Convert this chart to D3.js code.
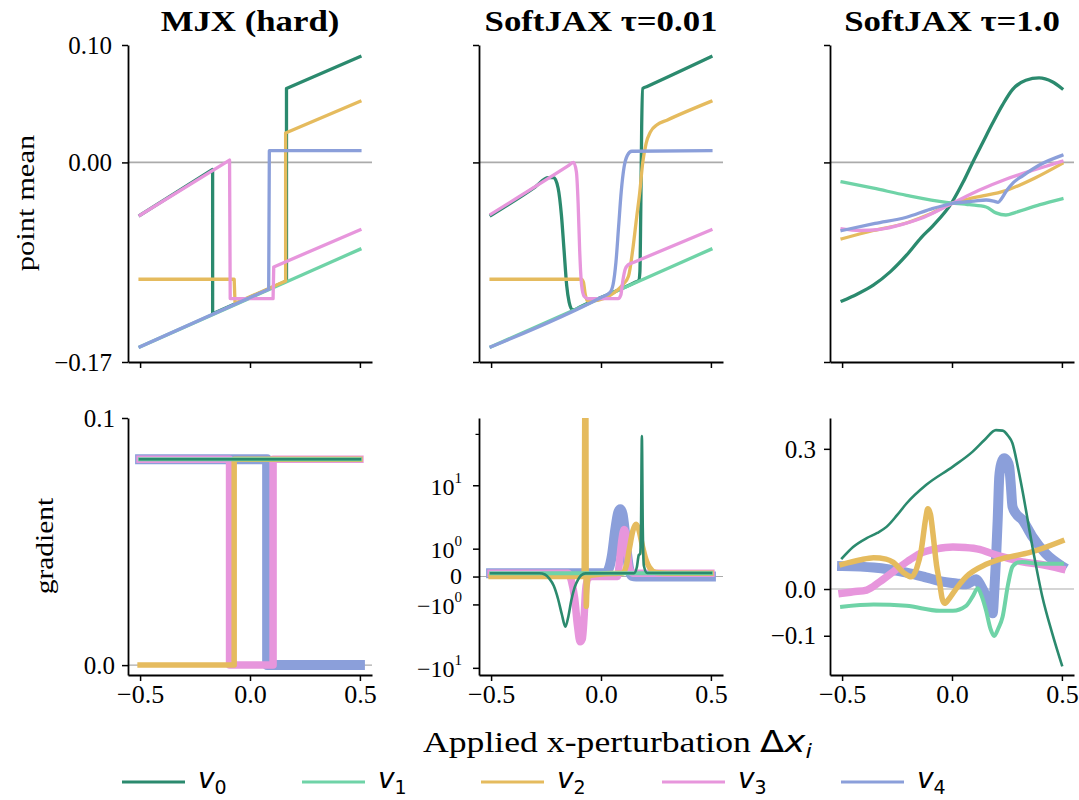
<!DOCTYPE html>
<html>
<head>
<meta charset="utf-8">
<script src="https://cdn.jsdelivr.net/npm/d3@7"></script>
<style>
  body { margin: 0; background: #fff; }
  svg { display: block; }
  text { fill: #000; }
</style>
</head>
<body>
<div id="chart"></div>
<script>
const seriesIds = ['0', '1', '2', '3', '4'];
const seriesColors = ['#2b8a6e', '#6fd3a7', '#e5bb5e', '#e796dc', '#8b9fda'];
const panelTitles = ['MJX (hard)', 'SoftJAX \u03c4=0.01', 'SoftJAX \u03c4=1.0'];
const rowLabels = ['point mean', 'gradient'];
const xLabelText = 'Applied x-perturbation ';

const xTicks = [-0.5, 0, 0.5];
const xTickLabels = ['\u22120.5', '0.0', '0.5'];
const meanTicks = [-0.17, 0, 0.10];
const meanTickLabels = ['\u22120.17', '0.00', '0.10'];
const gradHardTicks = [0, 0.1];
const gradHardTickLabels = ['0.0', '0.1'];
const gradSoftTicks = [-10, -1, 0, 1, 10];
const gradSoftTickLabels = [['\u221210', '1'], ['\u221210', '0'], ['0', ''], ['10', '0'], ['10', '1']];
const gradSoftMinorTicks = [44];
const gradSmoothTicks = [-0.1, 0, 0.3];
const gradSmoothTickLabels = ['\u22120.1', '0.0', '0.3'];

// point mean, MJX hard
const meanHard = [
  [[-0.5, -0.045], [-0.17, -0.006], [-0.17, -0.129], [0.166, -0.101], [0.166, 0.063], [0.5, 0.090]],
  [[-0.5, -0.157], [0.5, -0.074]],
  [[-0.5, -0.0995], [-0.072, -0.0995], [-0.068, -0.120], [0.162, -0.101], [0.162, 0.025], [0.5, 0.052]],
  [[-0.5, -0.045], [-0.093, 0.002], [-0.09, -0.116], [0.105, -0.116], [0.108, -0.089], [0.5, -0.0575]],
  [[-0.5, -0.157], [0.085, -0.108], [0.088, 0.010], [0.5, 0.010]]
];

// point mean, SoftJAX tau=0.01
const meanSoft = [
  [[-0.5, -0.045], [-0.3, -0.021], [-0.24, -0.013], [-0.215, -0.013], [-0.195, -0.022], [-0.18, -0.045],
   [-0.168, -0.075], [-0.156, -0.105], [-0.145, -0.119], [-0.13, -0.1255], [-0.12, -0.1255], [-0.1, -0.1235],
   [0.16, -0.1017], [0.172, -0.1005], [0.177, -0.093], [0.181, -0.04], [0.185, 0.03], [0.19, 0.063],
   [0.21, 0.0647], [0.5, 0.090]],
  [[-0.5, -0.157], [0.5, -0.074]],
  [[-0.5, -0.0995], [-0.09, -0.0995], [-0.08, -0.102], [-0.072, -0.112], [-0.062, -0.118], [-0.04, -0.118],
   [0.06, -0.111], [0.1, -0.104], [0.125, -0.097], [0.146, -0.072], [0.162, -0.047], [0.176, -0.026],
   [0.19, 0.0], [0.205, 0.016], [0.225, 0.026], [0.255, 0.032], [0.3, 0.036], [0.5, 0.052]],
  [[-0.5, -0.044], [-0.15, -0.003], [-0.125, 0.0], [-0.112, -0.008], [-0.104, -0.035], [-0.097, -0.075],
   [-0.088, -0.105], [-0.077, -0.114], [-0.06, -0.116], [0.078, -0.116], [0.09, -0.113], [0.1, -0.100],
   [0.11, -0.091], [0.125, -0.087], [0.15, -0.085], [0.5, -0.0575]],
  [[-0.5, -0.157], [0.0, -0.115], [0.04, -0.111], [0.055, -0.104], [0.068, -0.085], [0.08, -0.055],
   [0.092, -0.025], [0.105, -0.004], [0.12, 0.006], [0.14, 0.0095], [0.5, 0.010]]
];

// point mean, SoftJAX tau=1.0
const meanSmooth = [
  [[-0.5, -0.118], [-0.43, -0.112], [-0.358, -0.1045], [-0.28, -0.093], [-0.207, -0.079], [-0.14, -0.064],
   [-0.087, -0.054], [0.0, -0.034], [0.05, -0.017], [0.094, 0.0], [0.14, 0.017], [0.185, 0.0335],
   [0.23, 0.049], [0.275, 0.062], [0.336, 0.070], [0.396, 0.072], [0.456, 0.0687], [0.5, 0.063]],
  [[-0.5, -0.0166], [-0.357, -0.022], [-0.207, -0.028], [-0.026, -0.034], [0.08, -0.036], [0.155, -0.038],
   [0.2, -0.043], [0.245, -0.0448], [0.29, -0.0425], [0.4, -0.036], [0.5, -0.031]],
  [[-0.5, -0.065], [-0.357, -0.058], [-0.207, -0.0516], [-0.1, -0.044], [0.0, -0.035], [0.1, -0.03],
   [0.245, -0.024], [0.38, -0.013], [0.5, -0.001]],
  [[-0.5, -0.0566], [-0.42, -0.058], [-0.327, -0.057], [-0.23, -0.053], [-0.146, -0.048], [0.0, -0.035],
   [0.12, -0.024], [0.245, -0.0144], [0.38, -0.006], [0.5, 0.001]],
  [[-0.5, -0.058], [-0.35, -0.052], [-0.207, -0.0467], [-0.1, -0.04], [0.0, -0.035], [0.1, -0.033],
   [0.155, -0.032], [0.19, -0.033], [0.21, -0.034], [0.225, -0.031], [0.245, -0.025], [0.28, -0.017],
   [0.32, -0.0116], [0.4, -0.002], [0.5, 0.006]]
];

// gradient, MJX hard
const gradHard = [
  [[-0.5, 0.0833], [0.5, 0.0833]],
  [[-0.5, 0.0833], [0.5, 0.0833]],
  [[-0.5, 0], [-0.072, 0], [-0.072, 0.0833], [0.5, 0.0833]],
  [[-0.5, 0.0833], [-0.093, 0.0833], [-0.093, 0], [0.105, 0], [0.105, 0.0833], [0.5, 0.0833]],
  [[-0.5, 0.0833], [0.078, 0.0833], [0.078, 0], [0.5, 0]]
];

// gradient, SoftJAX tau=0.01 (symlog axis)
const gradSoft = [
  [[-0.5, 0.083], [-0.28, 0.083], [-0.255, 0.05], [-0.235, -0.05], [-0.215, -0.25], [-0.195, -0.75],
   [-0.178, -1.6], [-0.162, -2.6], [-0.148, -1.7], [-0.135, -0.8], [-0.12, -0.3], [-0.105, -0.08],
   [-0.09, 0.03], [-0.07, 0.08], [0.15, 0.083], [0.163, 0.25], [0.172, 0.7], [0.178, 0.75], [0.182, 2.5],
   [0.186, 42], [0.19, 2.5], [0.195, 0.3], [0.21, 0.09], [0.5, 0.09]],
  [[-0.5, 0.083], [0.5, 0.083]],
  [[-0.5, 0], [-0.1, 0], [-0.077, 0], [-0.073, 150], [-0.069, 150], [-0.067, -1.1], [-0.064, -0.3],
   [-0.058, 0], [-0.045, 0.03], [0.08, 0.083], [0.1, 0.09], [0.115, 0.3], [0.13, 1.06], [0.145, 2.2],
   [0.16, 2.8], [0.172, 2.3], [0.19, 1.06], [0.205, 0.5], [0.22, 0.25], [0.25, 0.1], [0.3, 0.083], [0.5, 0.083]],
  [[-0.5, 0.083], [-0.15, 0.083], [-0.135, -0.1], [-0.12, -0.7], [-0.107, -2.5], [-0.095, -4.4],
   [-0.085, -4.0], [-0.077, -1.8], [-0.07, -0.4], [-0.06, -0.05], [-0.04, 0], [0.075, 0], [0.085, 0.5],
   [0.095, 1.5], [0.105, 2.3], [0.113, 2.0], [0.12, 0.8], [0.13, 0.2], [0.145, 0.083], [0.5, 0.083]],
  [[-0.5, 0.083], [0.02, 0.083], [0.035, 0.2], [0.05, 0.7], [0.065, 2.3], [0.078, 4.2], [0.088, 4.7],
   [0.098, 4.0], [0.108, 2.2], [0.118, 0.8], [0.128, 0.2], [0.14, 0.02], [0.16, 0], [0.5, 0]]
];

// gradient, SoftJAX tau=1.0
const gradSmooth = [
  [[-0.5, 0.066], [-0.45, 0.09], [-0.388, 0.109], [-0.34, 0.12], [-0.298, 0.133], [-0.25, 0.158],
   [-0.207, 0.183], [-0.117, 0.223], [0.004, 0.262], [0.094, 0.294], [0.15, 0.32], [0.2, 0.34],
   [0.23, 0.339], [0.255, 0.328], [0.275, 0.312], [0.3, 0.26], [0.32, 0.212], [0.366, 0.09],
   [0.411, -0.0165], [0.456, -0.095], [0.5, -0.163]],
  [[-0.5, -0.038], [-0.357, -0.0333], [-0.207, -0.036], [-0.056, -0.0464], [0.004, -0.0464], [0.064, -0.036],
   [0.095, -0.015], [0.117, 0.0015], [0.135, -0.015], [0.155, -0.046], [0.175, -0.085], [0.192, -0.1006],
   [0.21, -0.085], [0.23, -0.06], [0.255, 0.01], [0.275, 0.0478], [0.3, 0.057], [0.32, 0.058],
   [0.396, 0.054], [0.5, 0.054]],
  [[-0.5, 0.0528], [-0.42, 0.062], [-0.357, 0.067], [-0.3, 0.064], [-0.267, 0.057], [-0.22, 0.035],
   [-0.185, 0.026], [-0.16, 0.045], [-0.14, 0.083], [-0.12, 0.15], [-0.11, 0.172], [-0.098, 0.16],
   [-0.087, 0.12], [-0.07, 0.05], [-0.056, 0.0128], [-0.045, -0.02], [-0.034, -0.0306], [-0.015, -0.022],
   [0.004, -0.0092], [0.064, 0.026], [0.155, 0.0528], [0.245, 0.067], [0.351, 0.0778], [0.5, 0.1028]],
  [[-0.5, -0.0092], [-0.45, -0.006], [-0.388, -0.0021], [-0.33, 0.015], [-0.267, 0.037], [-0.2, 0.06],
   [-0.146, 0.076], [-0.07, 0.086], [0.004, 0.09], [0.06, 0.089], [0.125, 0.0849], [0.18, 0.076],
   [0.245, 0.067], [0.32, 0.058], [0.4, 0.053], [0.5, 0.0428]],
  [[-0.5, 0.049], [-0.357, 0.046], [-0.207, 0.035], [-0.12, 0.025], [-0.056, 0.017], [0.02, 0.012],
   [0.064, 0.01], [0.09, 0.016], [0.11, 0.021], [0.13, 0.008], [0.155, -0.0164], [0.175, -0.045],
   [0.185, -0.0521], [0.193, 0.0], [0.2, 0.0621], [0.208, 0.15], [0.215, 0.24], [0.225, 0.27],
   [0.237, 0.28], [0.25, 0.275], [0.26, 0.262], [0.268, 0.22], [0.275, 0.177], [0.29, 0.162],
   [0.32, 0.148], [0.366, 0.112], [0.426, 0.076], [0.5, 0.049]]
];

const SERIF = '"Liberation Serif", "Times New Roman", serif';
const SANS = '"DejaVu Sans", sans-serif';

class ProbeGrid {
  constructor(domId) {
    this._width = 1079;
    this._height = 800;
    this._cols = [128, 479, 830];
    this._axW = 244;
    this._rows = [[45, 362], [418, 675]];
    this._svg = d3.select(domId).append('svg')
      .attr('width', this._width)
      .attr('height', this._height);
    this._defs = this._svg.append('defs');
    this._panels = [
      { col: 0, row: 0, data: meanHard, y: d3.scaleLinear().domain([-0.17, 0.10]), ticks: meanTicks, labels: meanTickLabels, pad: 10, curve: d3.curveLinear },
      { col: 1, row: 0, data: meanSoft, y: d3.scaleLinear().domain([-0.17, 0.10]), ticks: meanTicks, labels: null, pad: 10, curve: d3.curveMonotoneX },
      { col: 2, row: 0, data: meanSmooth, y: d3.scaleLinear().domain([-0.17, 0.10]), ticks: meanTicks, labels: null, pad: 10, curve: d3.curveMonotoneX },
      { col: 0, row: 1, data: gradHard, y: d3.scaleLinear().domain([-0.004, 0.1]), ticks: gradHardTicks, labels: gradHardTickLabels, pad: 7, curve: d3.curveLinear },
      { col: 1, row: 1, data: gradSoft, y: d3.scaleSymlog().constant(0.85).domain([-12.4, 70]), ticks: gradSoftTicks, labels: 'symlog', pad: 11, curve: d3.curveMonotoneX },
      { col: 2, row: 1, data: gradSmooth, y: d3.scaleLinear().domain([-0.184, 0.366]), ticks: gradSmoothTicks, labels: gradSmoothTickLabels, pad: 8, curve: d3.curveMonotoneX }
    ];
  }

  render() {
    this._panels.forEach((p, i) => this.renderPanel(p, i));
    this.renderTitles();
    this.renderLabels();
    this.renderLegend();
  }

  renderPanel(p, i) {
    const x0 = this._cols[p.col];
    const [yTop, yBot] = this._rows[p.row];
    const x = d3.scaleLinear().domain([-0.555, 0.555]).range([x0, x0 + this._axW]);
    const y = p.y.range([yBot, yTop]);
    const g = this._svg.append('g').attr('class', 'panel-' + i);

    this._defs.append('clipPath').attr('id', 'clip' + i)
      .append('rect')
      .attr('x', x0).attr('y', yTop)
      .attr('width', this._axW).attr('height', yBot - yTop);

    // reference line at zero
    g.append('line')
      .attr('x1', x0).attr('x2', x0 + this._axW)
      .attr('y1', y(0)).attr('y2', y(0))
      .attr('stroke', '#ababab')
      .attr('stroke-width', p.row === 0 ? 1.6 : 1.1);

    const widths = p.row === 0 ? [3.3, 3.3, 3.3, 3.3, 3.3] : [2.6, 4, 5.5, 7.5, 10];
    const order = p.row === 0 ? [0, 1, 2, 3, 4] : [4, 3, 2, 1, 0];
    const line = d3.line()
      .x(d => x(d[0]))
      .y(d => y(d[1]))
      .curve(p.curve);

    g.append('g')
      .attr('clip-path', `url(#clip${i})`)
      .selectAll('path')
      .data(order)
      .join('path')
      .attr('d', k => line(p.data[k]))
      .attr('fill', 'none')
      .attr('stroke', k => seriesColors[k])
      .attr('stroke-width', k => widths[k])
      .attr('stroke-linecap', 'square')
      .attr('stroke-linejoin', 'round');

    // x axis
    const xAxis = g.append('g')
      .attr('transform', `translate(0,${yBot})`)
      .call(d3.axisBottom(x).tickValues(xTicks).tickSize(6).tickSizeOuter(0)
        .tickFormat((d, j) => p.row === 1 ? xTickLabels[j] : ''));
    xAxis.selectAll('.tick text')
      .attr('y', 28).attr('dy', null)
      .attr('font-family', SERIF).attr('font-size', 26);

    // y axis
    const yAxis = g.append('g')
      .attr('transform', `translate(${x0},0)`)
      .call(d3.axisLeft(y).tickValues(p.ticks).tickSize(6).tickSizeOuter(0).tickPadding(p.pad)
        .tickFormat((d, j) => Array.isArray(p.labels) ? p.labels[j] : ''));
    yAxis.selectAll('.tick text')
      .attr('font-family', SERIF).attr('font-size', 25).attr('dy', '0.33em');

    if (p.labels === 'symlog') {
      yAxis.selectAll('.tick text').each(function (d, j) {
        const [base, sup] = gradSoftTickLabels[j];
        const t = d3.select(this).text(null).attr('dy', null).attr('y', sup ? 9 : 7)
          .attr('font-size', 24);
        t.append('tspan').text(base);
        if (sup) t.append('tspan').attr('font-size', 15).attr('dy', -12).text(sup);
      });
      yAxis.selectAll('.minor')
        .data(gradSoftMinorTicks)
        .join('line')
        .attr('class', 'minor')
        .attr('x1', -3.5).attr('x2', 0)
        .attr('y1', d => y(d)).attr('y2', d => y(d))
        .attr('stroke', '#000').attr('stroke-width', 1.2);
    }

    [xAxis, yAxis].forEach(a => {
      a.select('.domain').attr('stroke-width', 1.8);
      a.selectAll('.tick line').attr('stroke-width', 1.5);
    });
  }

  renderTitles() {
    this._svg.append('g').selectAll('g')
      .data(panelTitles)
      .join('g')
      .attr('transform', (d, i) => `translate(${this._cols[i] + this._axW / 2},31) scale(1.2,1)`)
      .append('text')
      .attr('text-anchor', 'middle')
      .attr('font-family', SERIF)
      .attr('font-weight', 'bold')
      .attr('font-size', 29)
      .text(d => d);
  }

  renderLabels() {
    const spots = [[34, 203, 1.22], [53, 546, 1.18]];
    rowLabels.forEach((label, i) => {
      const [lx, ly, sx] = spots[i];
      this._svg.append('g')
        .attr('transform', `translate(${lx},${ly}) rotate(-90) scale(${sx},1)`)
        .append('text')
        .attr('text-anchor', 'middle')
        .attr('font-family', SERIF)
        .attr('font-size', 25)
        .text(label);
    });

    const t = this._svg.append('g')
      .attr('transform', 'translate(423,752) scale(1.17,1)')
      .append('text')
      .attr('font-family', SERIF)
      .attr('font-size', 30.5);
    t.append('tspan').text(xLabelText);
    t.append('tspan').attr('font-family', SANS).text('\u0394');
    t.append('tspan').attr('font-family', SANS).attr('font-style', 'italic').text('x');
    t.append('tspan').attr('font-family', SANS).attr('font-style', 'italic')
      .attr('font-size', 20).attr('dy', 6).text('i');
  }

  renderLegend() {
    const starts = [122, 302, 481, 662, 841];
    const items = this._svg.append('g').attr('class', 'legend')
      .selectAll('g')
      .data(seriesIds)
      .join('g')
      .attr('transform', (d, i) => `translate(${starts[i]},782)`);
    items.append('line')
      .attr('x1', 0).attr('x2', 63)
      .attr('stroke', (d, i) => seriesColors[i])
      .attr('stroke-width', 3);
    const t = items.append('text')
      .attr('x', 76).attr('y', 6)
      .attr('font-family', SANS)
      .attr('font-style', 'italic')
      .attr('font-size', 28);
    t.append('tspan').text('v');
    t.append('tspan').attr('font-style', 'normal').attr('font-size', 19).attr('dy', 6).text(d => d);
  }
}

new ProbeGrid('#chart').render();
</script>
</body>
</html>
